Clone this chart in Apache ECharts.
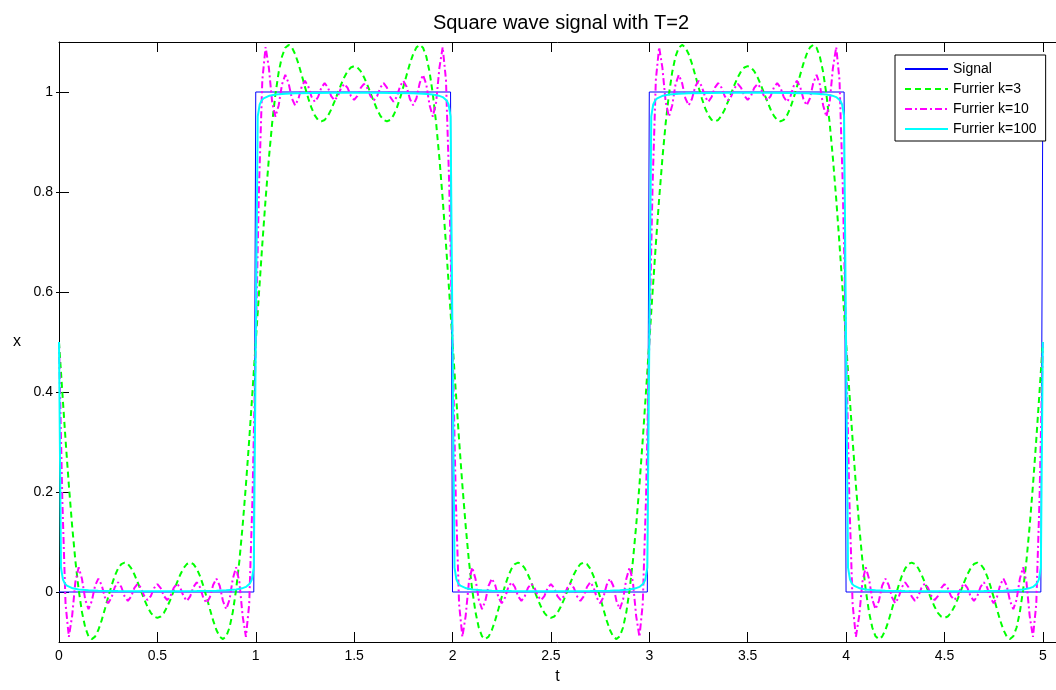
<!DOCTYPE html>
<html>
<head>
<meta charset="utf-8">
<script src="https://cdn.jsdelivr.net/npm/echarts@6/dist/echarts.min.js"></script>
<style>
html,body{margin:0;padding:0;background:#fff;}
#chart{width:1056px;height:690px;}
</style>
</head>
<body>
<div id="chart"></div>
<script>
// sample times (step 1/60) for the k=3 and k=10 curves
const tGrid = [
0,.0167,.0333,.05,.0667,.0833,.1,.1167,.1333,.15,.1667,.1833,.2,.2167,.2333,.25,.2667,.2833,.3,.3167,.3333,.35,.3667,.3833,.4,.4167,.4333,.45,.4667,.4833,.5,.5167,.5333,.55,.5667,.5833,.6,.6167,.6333,.65,.6667,.6833,.7,.7167,.7333,.75,.7667,.7833,.8,.8167,.8333,.85,.8667,.8833,.9,.9167,.9333,.95,.9667,.9833,
1,1.0167,1.0333,1.05,1.0667,1.0833,1.1,1.1167,1.1333,1.15,1.1667,1.1833,1.2,1.2167,1.2333,1.25,1.2667,1.2833,1.3,1.3167,1.3333,1.35,1.3667,1.3833,1.4,1.4167,1.4333,1.45,1.4667,1.4833,1.5,1.5167,1.5333,1.55,1.5667,1.5833,1.6,1.6167,1.6333,1.65,1.6667,1.6833,1.7,1.7167,1.7333,1.75,1.7667,1.7833,1.8,1.8167,1.8333,1.85,1.8667,1.8833,1.9,1.9167,1.9333,1.95,1.9667,1.9833,
2,2.0167,2.0333,2.05,2.0667,2.0833,2.1,2.1167,2.1333,2.15,2.1667,2.1833,2.2,2.2167,2.2333,2.25,2.2667,2.2833,2.3,2.3167,2.3333,2.35,2.3667,2.3833,2.4,2.4167,2.4333,2.45,2.4667,2.4833,2.5,2.5167,2.5333,2.55,2.5667,2.5833,2.6,2.6167,2.6333,2.65,2.6667,2.6833,2.7,2.7167,2.7333,2.75,2.7667,2.7833,2.8,2.8167,2.8333,2.85,2.8667,2.8833,2.9,2.9167,2.9333,2.95,2.9667,2.9833,
3,3.0167,3.0333,3.05,3.0667,3.0833,3.1,3.1167,3.1333,3.15,3.1667,3.1833,3.2,3.2167,3.2333,3.25,3.2667,3.2833,3.3,3.3167,3.3333,3.35,3.3667,3.3833,3.4,3.4167,3.4333,3.45,3.4667,3.4833,3.5,3.5167,3.5333,3.55,3.5667,3.5833,3.6,3.6167,3.6333,3.65,3.6667,3.6833,3.7,3.7167,3.7333,3.75,3.7667,3.7833,3.8,3.8167,3.8333,3.85,3.8667,3.8833,3.9,3.9167,3.9333,3.95,3.9667,3.9833,
4,4.0167,4.0333,4.05,4.0667,4.0833,4.1,4.1167,4.1333,4.15,4.1667,4.1833,4.2,4.2167,4.2333,4.25,4.2667,4.2833,4.3,4.3167,4.3333,4.35,4.3667,4.3833,4.4,4.4167,4.4333,4.45,4.4667,4.4833,4.5,4.5167,4.5333,4.55,4.5667,4.5833,4.6,4.6167,4.6333,4.65,4.6667,4.6833,4.7,4.7167,4.7333,4.75,4.7667,4.7833,4.8,4.8167,4.8333,4.85,4.8667,4.8833,4.9,4.9167,4.9333,4.95,4.9667,4.9833,
5
];

// Furrier k=3 (green dashed), values at tGrid
const furrier3 = [
0.5,0.4005,0.3042,0.214,0.1326,0.0622,0.0043,-0.0402,-0.071,-0.0887,-0.0942,-0.0893,-0.076,-0.0568,-0.034,-0.0102,0.0124,0.0319,0.0467,0.0559,0.0589,0.056,0.0477,0.035,0.0193,0.0022,-0.0147,-0.0297,-0.0416,-0.0491,-0.0517,-0.0491,-0.0416,-0.0297,-0.0147,0.0022,0.0193,0.035,0.0477,0.056,0.0589,0.0559,0.0467,0.0319,0.0124,-0.0102,-0.034,-0.0568,-0.076,-0.0893,-0.0942,-0.0887,-0.071,-0.0402,0.0043,0.0622,0.1326,0.214,0.3042,0.4005,
0.5,0.5995,0.6958,0.786,0.8674,0.9378,0.9957,1.0402,1.071,1.0887,1.0942,1.0893,1.076,1.0568,1.034,1.0102,0.9876,0.9681,0.9533,0.9441,0.9411,0.944,0.9523,0.965,0.9807,0.9978,1.0147,1.0297,1.0416,1.0491,1.0517,1.0491,1.0416,1.0297,1.0147,0.9978,0.9807,0.965,0.9523,0.944,0.9411,0.9441,0.9533,0.9681,0.9876,1.0102,1.034,1.0568,1.076,1.0893,1.0942,1.0887,1.071,1.0402,0.9957,0.9378,0.8674,0.786,0.6958,0.5995,
0.5,0.4005,0.3042,0.214,0.1326,0.0622,0.0043,-0.0402,-0.071,-0.0887,-0.0942,-0.0893,-0.076,-0.0568,-0.034,-0.0102,0.0124,0.0319,0.0467,0.0559,0.0589,0.056,0.0477,0.035,0.0193,0.0022,-0.0147,-0.0297,-0.0416,-0.0491,-0.0517,-0.0491,-0.0416,-0.0297,-0.0147,0.0022,0.0193,0.035,0.0477,0.056,0.0589,0.0559,0.0467,0.0319,0.0124,-0.0102,-0.034,-0.0568,-0.076,-0.0893,-0.0942,-0.0887,-0.071,-0.0402,0.0043,0.0622,0.1326,0.214,0.3042,0.4005,
0.5,0.5995,0.6958,0.786,0.8674,0.9378,0.9957,1.0402,1.071,1.0887,1.0942,1.0893,1.076,1.0568,1.034,1.0102,0.9876,0.9681,0.9533,0.9441,0.9411,0.944,0.9523,0.965,0.9807,0.9978,1.0147,1.0297,1.0416,1.0491,1.0517,1.0491,1.0416,1.0297,1.0147,0.9978,0.9807,0.965,0.9523,0.944,0.9411,0.9441,0.9533,0.9681,0.9876,1.0102,1.034,1.0568,1.076,1.0893,1.0942,1.0887,1.071,1.0402,0.9957,0.9378,0.8674,0.786,0.6958,0.5995,
0.5,0.4005,0.3042,0.214,0.1326,0.0622,0.0043,-0.0402,-0.071,-0.0887,-0.0942,-0.0893,-0.076,-0.0568,-0.034,-0.0102,0.0124,0.0319,0.0467,0.0559,0.0589,0.056,0.0477,0.035,0.0193,0.0022,-0.0147,-0.0297,-0.0416,-0.0491,-0.0517,-0.0491,-0.0416,-0.0297,-0.0147,0.0022,0.0193,0.035,0.0477,0.056,0.0589,0.0559,0.0467,0.0319,0.0124,-0.0102,-0.034,-0.0568,-0.076,-0.0893,-0.0942,-0.0887,-0.071,-0.0402,0.0043,0.0622,0.1326,0.214,0.3042,0.4005,
0.5
];

// Furrier k=10 (magenta dash-dot), values at tGrid
const furrier10 = [
0.5,0.1863,-0.0241,-0.0898,-0.0481,0.0203,0.0494,0.0264,-0.0152,-0.0343,-0.018,0.0125,0.0268,0.0139,-0.0107,-0.0223,-0.0115,0.0095,0.0196,0.01,-0.0087,-0.0178,-0.009,0.0082,0.0167,0.0084,-0.008,-0.0161,-0.0081,0.0079,0.0159,0.0079,-0.0081,-0.0161,-0.008,0.0084,0.0167,0.0082,-0.009,-0.0178,-0.0087,0.01,0.0196,0.0095,-0.0115,-0.0223,-0.0107,0.0139,0.0268,0.0125,-0.018,-0.0343,-0.0152,0.0264,0.0494,0.0203,-0.0481,-0.0898,-0.0241,0.1863,
0.5,0.8137,1.0241,1.0898,1.0481,0.9797,0.9506,0.9736,1.0152,1.0343,1.018,0.9875,0.9732,0.9861,1.0107,1.0223,1.0115,0.9905,0.9804,0.99,1.0087,1.0178,1.009,0.9918,0.9833,0.9916,1.008,1.0161,1.0081,0.9921,0.9841,0.9921,1.0081,1.0161,1.008,0.9916,0.9833,0.9918,1.009,1.0178,1.0087,0.99,0.9804,0.9905,1.0115,1.0223,1.0107,0.9861,0.9732,0.9875,1.018,1.0343,1.0152,0.9736,0.9506,0.9797,1.0481,1.0898,1.0241,0.8137,
0.5,0.1863,-0.0241,-0.0898,-0.0481,0.0203,0.0494,0.0264,-0.0152,-0.0343,-0.018,0.0125,0.0268,0.0139,-0.0107,-0.0223,-0.0115,0.0095,0.0196,0.01,-0.0087,-0.0178,-0.009,0.0082,0.0167,0.0084,-0.008,-0.0161,-0.0081,0.0079,0.0159,0.0079,-0.0081,-0.0161,-0.008,0.0084,0.0167,0.0082,-0.009,-0.0178,-0.0087,0.01,0.0196,0.0095,-0.0115,-0.0223,-0.0107,0.0139,0.0268,0.0125,-0.018,-0.0343,-0.0152,0.0264,0.0494,0.0203,-0.0481,-0.0898,-0.0241,0.1863,
0.5,0.8137,1.0241,1.0898,1.0481,0.9797,0.9506,0.9736,1.0152,1.0343,1.018,0.9875,0.9732,0.9861,1.0107,1.0223,1.0115,0.9905,0.9804,0.99,1.0087,1.0178,1.009,0.9918,0.9833,0.9916,1.008,1.0161,1.0081,0.9921,0.9841,0.9921,1.0081,1.0161,1.008,0.9916,0.9833,0.9918,1.009,1.0178,1.0087,0.99,0.9804,0.9905,1.0115,1.0223,1.0107,0.9861,0.9732,0.9875,1.018,1.0343,1.0152,0.9736,0.9506,0.9797,1.0481,1.0898,1.0241,0.8137,
0.5,0.1863,-0.0241,-0.0898,-0.0481,0.0203,0.0494,0.0264,-0.0152,-0.0343,-0.018,0.0125,0.0268,0.0139,-0.0107,-0.0223,-0.0115,0.0095,0.0196,0.01,-0.0087,-0.0178,-0.009,0.0082,0.0167,0.0084,-0.008,-0.0161,-0.0081,0.0079,0.0159,0.0079,-0.0081,-0.0161,-0.008,0.0084,0.0167,0.0082,-0.009,-0.0178,-0.0087,0.01,0.0196,0.0095,-0.0115,-0.0223,-0.0107,0.0139,0.0268,0.0125,-0.018,-0.0343,-0.0152,0.0264,0.0494,0.0203,-0.0481,-0.0898,-0.0241,0.1863,
0.5
];

// Furrier k=100 (cyan) sample times and values
const tK100 = [
0,0.01,0.02,0.03,0.04,0.05,0.07,0.1,0.15,0.2,0.3,0.4,0.5,0.6,0.7,0.8,0.85,0.9,0.93,0.95,0.96,0.97,0.98,0.99,
1,1.01,1.02,1.03,1.04,1.05,1.07,1.1,1.15,1.2,1.3,1.4,1.5,1.6,1.7,1.8,1.85,1.9,1.93,1.95,1.96,1.97,1.98,1.99,
2,2.01,2.02,2.03,2.04,2.05,2.07,2.1,2.15,2.2,2.3,2.4,2.5,2.6,2.7,2.8,2.85,2.9,2.93,2.95,2.96,2.97,2.98,2.99,
3,3.01,3.02,3.03,3.04,3.05,3.07,3.1,3.15,3.2,3.3,3.4,3.5,3.6,3.7,3.8,3.85,3.9,3.93,3.95,3.96,3.97,3.98,3.99,
4,4.01,4.02,4.03,4.04,4.05,4.07,4.1,4.15,4.2,4.3,4.4,4.5,4.6,4.7,4.8,4.85,4.9,4.93,4.95,4.96,4.97,4.98,4.99,
5
];
const furrier100 = [
0.5,0.0486,0.025,0.0168,0.0127,0.0102,0.0073,0.0052,0.0035,0.0027,0.002,0.0017,0.0016,0.0017,0.002,0.0027,0.0035,0.0052,0.0073,0.0102,0.0127,0.0168,0.025,0.0486,
0.5,0.9514,0.975,0.9832,0.9873,0.9898,0.9927,0.9948,0.9965,0.9973,0.998,0.9983,0.9984,0.9983,0.998,0.9973,0.9965,0.9948,0.9927,0.9898,0.9873,0.9832,0.975,0.9514,
0.5,0.0486,0.025,0.0168,0.0127,0.0102,0.0073,0.0052,0.0035,0.0027,0.002,0.0017,0.0016,0.0017,0.002,0.0027,0.0035,0.0052,0.0073,0.0102,0.0127,0.0168,0.025,0.0486,
0.5,0.9514,0.975,0.9832,0.9873,0.9898,0.9927,0.9948,0.9965,0.9973,0.998,0.9983,0.9984,0.9983,0.998,0.9973,0.9965,0.9948,0.9927,0.9898,0.9873,0.9832,0.975,0.9514,
0.5,0.0486,0.025,0.0168,0.0127,0.0102,0.0073,0.0052,0.0035,0.0027,0.002,0.0017,0.0016,0.0017,0.002,0.0027,0.0035,0.0052,0.0073,0.0102,0.0127,0.0168,0.025,0.0486,
0.5
];

// Signal (square wave) corner points
const tSignal = [0, 0.99, 1, 1.99, 2, 2.99, 3, 3.99, 4, 4.99, 5];
const signal  = [0, 0,    1, 1,    0, 0,    1, 1,    0, 0,    1];

// axis ticks
const xTicks = [0, 0.5, 1, 1.5, 2, 2.5, 3, 3.5, 4, 4.5, 5];
const yTicks = [0, 0.2, 0.4, 0.6, 0.8, 1];

const seriesNames = ['Signal', 'Furrier k=3', 'Furrier k=10', 'Furrier k=100'];

const pairs = (xs, ys) => xs.map((x, i) => [x, ys[i]]);
const FONT = "'Liberation Sans', Arial, Helvetica, sans-serif";

const chart = echarts.init(document.getElementById('chart'), null, {renderer: 'canvas'});

const baseAxisLine = {show: true, onZero: false, lineStyle: {color: '#000', width: 1}};
const tickStyle = {color: '#000', width: 1};

const option = {
  animation: false,
  backgroundColor: '#fff',
  textStyle: {fontFamily: FONT},
  title: {
    text: 'Square wave signal with T=2',
    left: 561, top: 13, padding: 0,
    textAlign: 'center',
    textStyle: {fontFamily: FONT, fontSize: 20, fontWeight: 'normal', color: '#000'}
  },
  grid: {left: 59, right: 0, top: 42, bottom: 43, containLabel: false},
  legend: {
    data: seriesNames,
    orient: 'vertical',
    left: 895, top: 55,
    padding: [7, 9, 5, 9],
    itemWidth: 43, itemHeight: 14, itemGap: 6,
    backgroundColor: '#fff',
    borderColor: '#000', borderWidth: 1,
    selectedMode: false,
    itemStyle: {opacity: 0},
    textStyle: {fontFamily: FONT, fontSize: 14, color: '#000'}
  },
  xAxis: [{
    type: 'value', min: 0, max: 5.067, position: 'bottom',
    name: 't', nameLocation: 'middle', nameGap: 27,
    nameTextStyle: {fontFamily: FONT, fontSize: 16, color: '#000'},
    axisLine: baseAxisLine,
    axisTick: {show: true, inside: true, length: 10, lineStyle: tickStyle, customValues: xTicks},
    axisLabel: {show: true, margin: 7, color: '#000', fontFamily: FONT, fontSize: 14, customValues: xTicks},
    splitLine: {show: false}
  }, {
    type: 'value', min: 0, max: 5.067, position: 'top',
    axisLine: baseAxisLine,
    axisTick: {show: true, inside: true, length: 10, lineStyle: tickStyle, customValues: xTicks},
    axisLabel: {show: false},
    splitLine: {show: false}
  }],
  yAxis: [{
    type: 'value', min: -0.1, max: 1.1, position: 'left',
    name: 'x', nameLocation: 'middle', nameGap: 38, nameRotate: 0,
    nameTextStyle: {fontFamily: FONT, fontSize: 16, color: '#000'},
    axisLine: baseAxisLine,
    axisTick: {show: true, inside: true, length: 10, lineStyle: tickStyle, customValues: yTicks},
    axisLabel: {show: true, margin: 6, color: '#000', fontFamily: FONT, fontSize: 14, customValues: yTicks},
    splitLine: {show: false}
  }, {
    type: 'value', min: -0.1, max: 1.1, position: 'right',
    axisLine: {show: false},
    axisTick: {show: true, inside: true, length: 3, lineStyle: tickStyle, customValues: yTicks},
    axisLabel: {show: false},
    splitLine: {show: false}
  }],
  series: [{
    name: seriesNames[0], type: 'line', xAxisIndex: 0, yAxisIndex: 0,
    data: pairs(tSignal, signal), symbol: 'none', silent: true, clip: true,
    color: '#0000ff', lineStyle: {color: '#0000ff', width: 1}
  }, {
    name: seriesNames[1], type: 'line', xAxisIndex: 0, yAxisIndex: 0,
    data: pairs(tGrid, furrier3), symbol: 'none', silent: true, clip: true,
    color: '#00ff00', lineStyle: {color: '#00ff00', width: 2, type: [6, 4]}
  }, {
    name: seriesNames[2], type: 'line', xAxisIndex: 0, yAxisIndex: 0,
    data: pairs(tGrid, furrier10), symbol: 'none', silent: true, clip: true,
    color: '#ff00ff', lineStyle: {color: '#ff00ff', width: 2, type: [7, 3, 2, 3]}
  }, {
    name: seriesNames[3], type: 'line', xAxisIndex: 0, yAxisIndex: 0,
    data: pairs(tK100, furrier100), symbol: 'none', silent: true, clip: true,
    color: '#00ffff', lineStyle: {color: '#00ffff', width: 2}
  }]
};

chart.setOption(option);
</script>
</body>
</html>
